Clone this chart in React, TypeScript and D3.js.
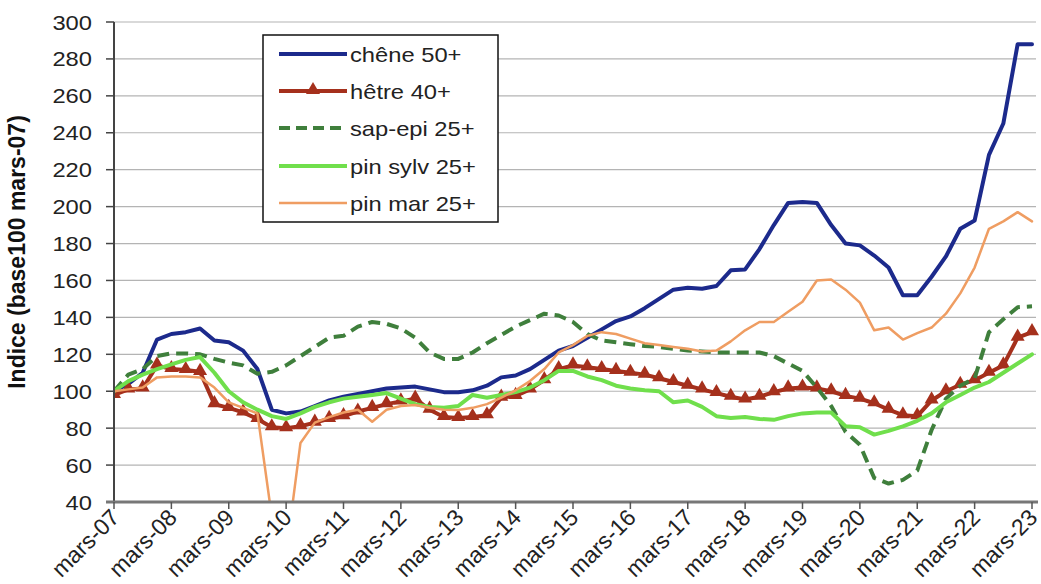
import React from "react";
import * as d3 from "d3";

// Quarterly observations, from mars-07 (t=0) to mars-23 (t=16)
const yearLabels = ["mars-07","mars-08","mars-09","mars-10","mars-11","mars-12","mars-13","mars-14","mars-15","mars-16","mars-17","mars-18","mars-19","mars-20","mars-21","mars-22","mars-23"];
const yTicks = [40,60,80,100,120,140,160,180,200,220,240,260,280,300];

const chene = [
  100, 104, 110, 128,
  131, 132, 134, 127.5,
  126.5, 122, 112, 90,
  88, 89, 92, 95,
  97, 98.5, 100, 101.5,
  102, 102.5, 101, 99.5,
  99.5, 100.5, 103, 107.5,
  108.5, 112, 117, 122,
  124.5, 129, 133.5, 138,
  140.5, 145, 150, 155,
  156, 155.5, 157, 165.5,
  166, 177, 190, 202,
  202.5, 202, 190, 180,
  179, 173.5, 167, 152,
  152, 162, 173, 188,
  192.5, 228, 245, 288,
  288,
];
const hetre = [
  98, 101, 101.5, 114,
  112, 111.5, 110.5, 93,
  91, 88.5, 85, 80.5,
  80, 81, 83, 85,
  86.5, 89, 91, 93,
  94.5, 96, 90, 86,
  85.5, 86, 87, 96.5,
  97.5, 101, 106, 112,
  114, 113, 112, 111,
  110, 109, 107, 105,
  103, 101, 99, 97,
  95.5, 97, 99.5, 101.5,
  102, 101.5, 100, 97.5,
  96, 93.5, 90, 87,
  86.5, 95, 100, 103.5,
  106, 110, 114, 129,
  132,
];
const sapEpi = [
  100, 109, 112, 119,
  120.5, 120.5, 120, 117.5,
  115.5, 114, 109.5, 110.5,
  114, 119, 124, 129,
  130, 135, 137.5, 136.5,
  134, 129, 121, 117.5,
  117.5, 121, 126, 130.5,
  135, 138.5, 142, 141,
  137.5, 131, 127.5, 126.5,
  125.5, 124.5, 124, 123,
  122, 121.5, 121, 121,
  121, 121, 119, 115,
  111, 102, 92, 78,
  71, 53, 50, 52,
  57, 79, 96, 103,
  107, 132, 139, 145.5,
  146,
];
const pinSylv = [
  100, 105.5, 109, 112,
  114.5, 117, 118.5, 110,
  100, 94, 90, 86.5,
  85, 88, 91.5, 94,
  96, 97, 98, 99,
  96, 93, 91.5, 91,
  92, 98, 96.5, 98,
  99.5, 102, 106, 111,
  111, 108, 106, 103,
  101.5, 100.5, 100, 94,
  95, 91.5, 86.5, 85.5,
  86, 85, 84.5, 86.5,
  88, 88.5, 88.5, 81,
  80.5, 76.5, 78.5, 81,
  84, 88, 94, 98,
  102, 105, 110, 115,
  120,
];
const pinMar = [
  100, 101, 102, 107.5,
  108, 108, 107.5, 102,
  94, 91, 88, 32,
  12, 72, 83, 86,
  88.5, 90, 83.5, 90,
  92, 92.5, 91, 90,
  89.8, 91, 93, 96.5,
  100.5, 105.5, 112, 121,
  125, 130, 132, 131,
  128.5, 126, 125, 124,
  123, 121.5, 122, 127,
  133, 137.5, 137.5, 143,
  148.5, 160, 160.5, 155,
  148, 133, 134.5, 128,
  131.5, 134.5, 142, 153,
  167, 188, 192, 197,
  192,
];

const seriesNames = ["chêne 50+", "hêtre 40+", "sap-epi 25+", "pin sylv 25+", "pin mar 25+"];

const FONT = "'Liberation Sans', Arial, Helvetica, sans-serif";
const SX = 1.13; // horizontal text stretch seen in the reference

export default function App() {
  const W = 1041, H = 584;
  const left = 114, right = 1036, top = 22, bottom = 502;
  const x = d3.scaleLinear().domain([0, 16]).range([left, 1032]);
  const y = d3.scaleLinear().domain([40, 300]).range([bottom, top]);
  const line = d3.line<number>().x((_, i) => x(i / 4)).y((v) => y(v));
  const tri = d3.symbol(d3.symbolTriangle, 85)() as string;

  const series = [
    { name: seriesNames[0], data: chene, color: "#1c2a8c", width: 4, dash: undefined as string | undefined, marker: false },
    { name: seriesNames[1], data: hetre, color: "#a5301c", width: 4, dash: undefined, marker: true },
    { name: seriesNames[2], data: sapEpi, color: "#3f7f3c", width: 4, dash: "12,7", marker: false },
    { name: seriesNames[3], data: pinSylv, color: "#70df4c", width: 4, dash: undefined, marker: false },
    { name: seriesNames[4], data: pinMar, color: "#ef9d62", width: 2.5, dash: undefined, marker: false },
  ];

  const legX = 263, legY = 35, legW = 235, legH = 187;
  const rowY = [54, 91, 128, 166, 203];

  return (
    <div style={{ position: "fixed", left: 0, top: 0, width: W, height: H, background: "#fff" }}>
      <svg width={W} height={H} style={{ display: "block" }} fontFamily={FONT}>
        <defs>
          <clipPath id="plotClip">
            <rect x={left} y={top - 5} width={right - left + 6} height={bottom - top + 5} />
          </clipPath>
        </defs>
        <rect x={0} y={0} width={W} height={H} fill="#fff" />
        {/* gridlines */}
        {yTicks.filter((t) => t > 40).map((t) => (
          <line key={"g" + t} x1={left} x2={right} y1={y(t)} y2={y(t)} stroke="#b4b4b4" strokeWidth={1.2} />
        ))}
        {/* y ticks & labels */}
        {yTicks.map((t) => (
          <g key={"y" + t}>
            <line x1={left - 8} x2={left} y1={y(t)} y2={y(t)} stroke="#444" strokeWidth={1.5} />
            <text transform={`translate(92,${y(t)}) scale(${SX},1)`} dy="0.36em" textAnchor="end" fontSize={21} fill="#222">{t}</text>
          </g>
        ))}
        {/* series */}
        <g clipPath="url(#plotClip)">
          {series.map((s) => (
            <g key={s.name}>
              <path d={line(s.data) || ""} fill="none" stroke={s.color} strokeWidth={s.width}
                strokeDasharray={s.dash} strokeLinejoin="round" strokeLinecap={s.dash ? "butt" : "round"} />
              {s.marker && s.data.map((v, i) => (
                <path key={i} d={tri} transform={`translate(${x(i / 4)},${y(v) - 1})`} fill={s.color} />
              ))}
            </g>
          ))}
        </g>
        {/* axes */}
        <line x1={left} x2={left} y1={top} y2={bottom} stroke="#444" strokeWidth={2} />
        <line x1={left - 8} x2={right + 2} y1={bottom} y2={bottom} stroke="#777" strokeWidth={3} />
        {yearLabels.map((lab, i) => (
          <g key={lab}>
            <line x1={x(i)} x2={x(i)} y1={bottom} y2={bottom + 7} stroke="#555" strokeWidth={1.5} />
            <text transform={`translate(${x(i) + 1},${bottom + 11}) rotate(-45)`} textAnchor="end"
              dy="0.36em" fontSize={23} fill="#222">{lab}</text>
          </g>
        ))}
        {/* y axis title */}
        <text transform="translate(25,252) rotate(-90)" textAnchor="middle" fontSize={23} fontWeight="bold" fill="#111">
          Indice (base100 mars-07)
        </text>
        {/* legend */}
        <rect x={legX} y={legY} width={legW} height={legH} fill="#fff" stroke="#111" strokeWidth={1.5} />
        {series.map((s, i) => (
          <g key={"l" + i}>
            <line x1={279} x2={347} y1={rowY[i]} y2={rowY[i]} stroke={s.color} strokeWidth={s.width}
              strokeDasharray={s.dash ? "11,6" : undefined} />
            {s.marker && <path d={tri} transform={`translate(313,${rowY[i] - 1})`} fill={s.color} />}
            <text transform={`translate(350,${rowY[i]}) scale(${SX},1)`} dy="0.36em" fontSize={21} fill="#222">{s.name}</text>
          </g>
        ))}
      </svg>
    </div>
  );
}
